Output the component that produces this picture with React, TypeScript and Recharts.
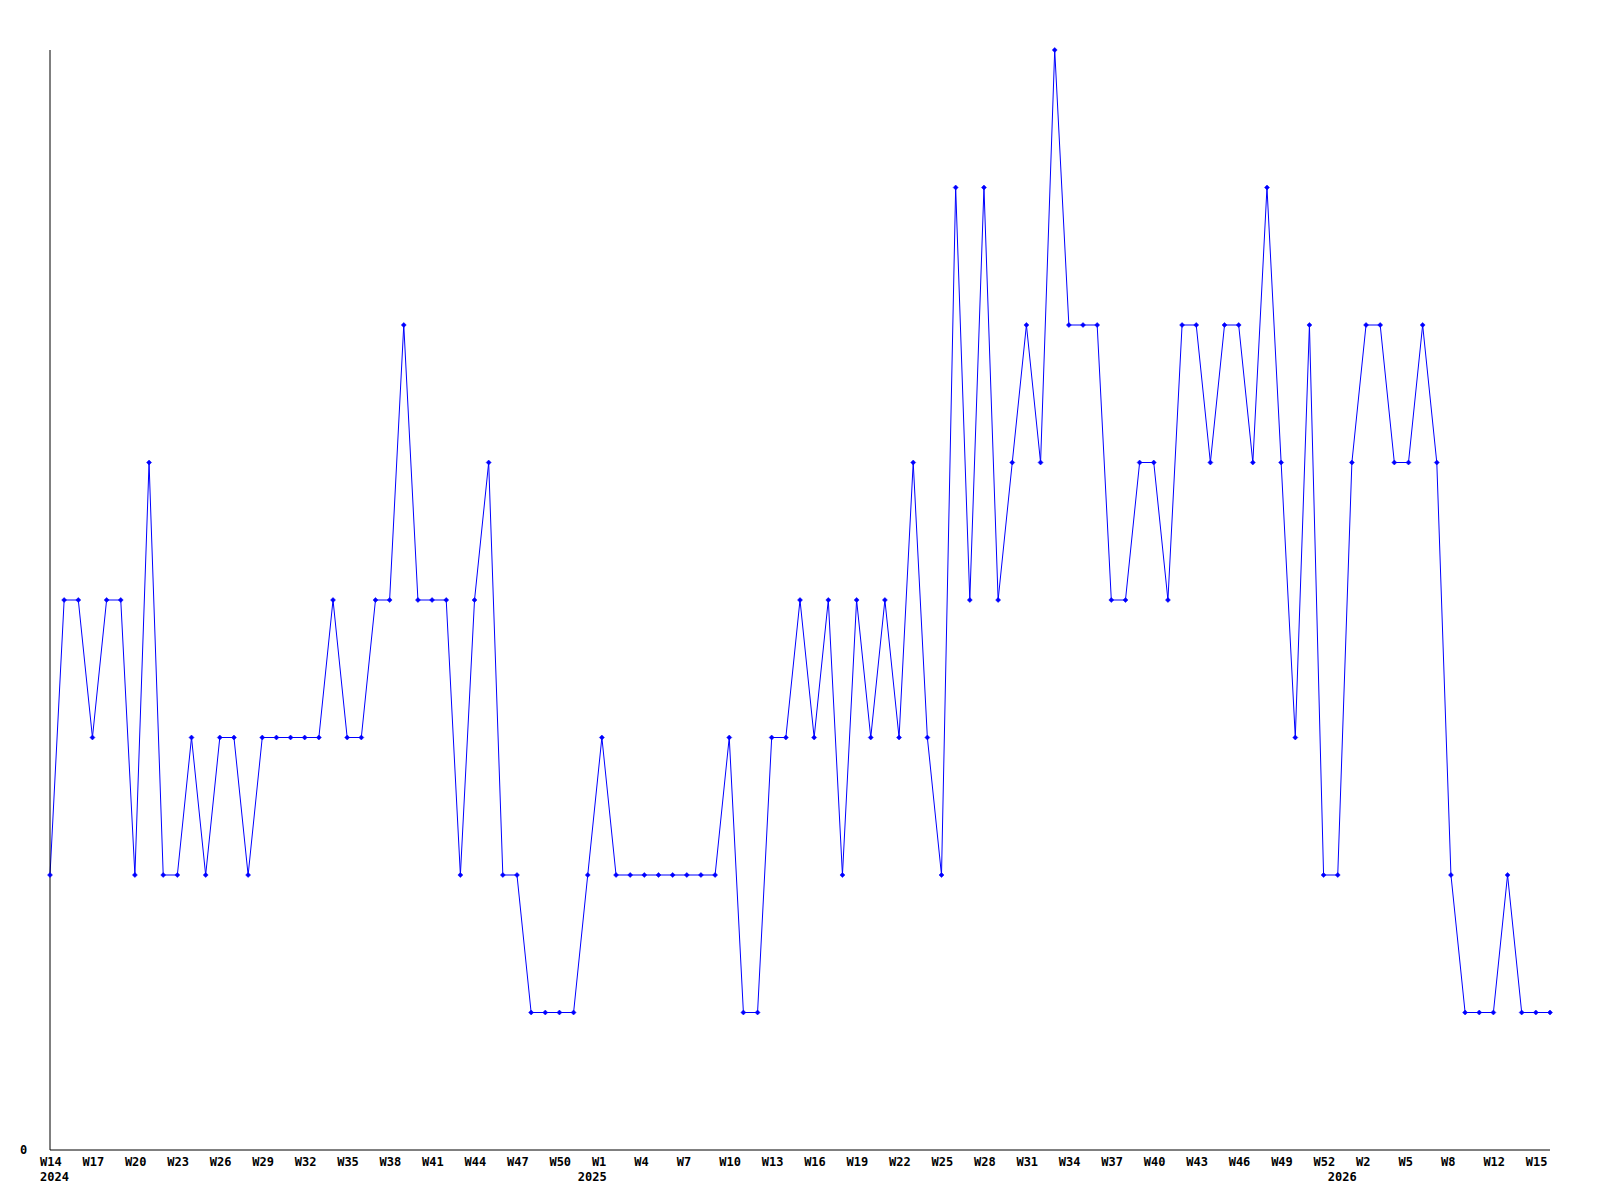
import React from "react";
import { LineChart, Line, XAxis, YAxis } from "recharts";

// Weekly values, W14 2024 .. W16 2026
const values: number[] = [
  2, 4, 4, 3, 4, 4, 2, 5, 2, 2, 3, 2, 3, 3, 2, 3, 3, 3, 3, 3,
  4, 3, 3, 4, 4, 6, 4, 4, 4, 2, 4, 5, 2, 2, 1, 1, 1, 1, 2, 3,
  2, 2, 2, 2, 2, 2, 2, 2, 3, 1, 1, 3, 3, 4, 3, 4, 2, 4, 3, 4,
  3, 5, 3, 2, 7, 4, 7, 4, 5, 6, 5, 8, 6, 6, 6, 4, 4, 5, 5, 4,
  6, 6, 5, 6, 6, 5, 7, 5, 3, 6, 2, 2, 5, 6, 6, 5, 5, 6, 5, 2,
  1, 1, 1, 2, 1, 1, 1,
];

// Tick labels shown every third point
const tickLabels: string[] = [
  "W14", "W17", "W20", "W23", "W26", "W29", "W32", "W35", "W38", "W41", "W44", "W47", "W50",
  "W1", "W4", "W7", "W10", "W13", "W16", "W19", "W22", "W25", "W28", "W31", "W34", "W37",
  "W40", "W43", "W46", "W49", "W52", "W2", "W5", "W8", "W12", "W15",
];
const tickIndices: number[] = tickLabels.map((_, k) => k * 3);

// Year labels and the point they sit under
const yearLabels: string[] = ["2024", "2025", "2026"];
const yearIndices: number[] = [0, 38, 91];

const allTicks: number[] = Array.from(new Set([...tickIndices, ...yearIndices])).sort((a, b) => a - b);

const data = values.map((v, i) => ({ i, v }));

const FONT = "'DejaVu Sans Mono', 'Liberation Mono', monospace";

const XTick = (props: any) => {
  const { x, y, payload } = props;
  const idx = payload.value as number;
  const k = tickIndices.indexOf(idx);
  const yk = yearIndices.indexOf(idx);
  return (
    <g>
      {k >= 0 && (
        <text x={x - 10} y={y + 8} textAnchor="start" fontFamily={FONT} fontWeight="bold" fontSize={12} fill="#000">
          {tickLabels[k]}
        </text>
      )}
      {yk >= 0 && (
        <text x={x - 10} y={y + 23} textAnchor="start" fontFamily={FONT} fontWeight="bold" fontSize={12} fill="#000">
          {yearLabels[yk]}
        </text>
      )}
    </g>
  );
};

const YTick = (props: any) => {
  const { y, payload } = props;
  return (
    <text x={20} y={y + 4} textAnchor="start" fontFamily={FONT} fontWeight="bold" fontSize={12} fill="#000">
      {payload.value}
    </text>
  );
};

const Dot = (props: any) => {
  const { cx, cy } = props;
  if (cx == null || cy == null) return null;
  return (
    <path
      d={`M${cx},${cy - 2.5} L${cx + 2.5},${cy} L${cx},${cy + 2.5} L${cx - 2.5},${cy} Z`}
      fill="#0000ff"
      stroke="#0000ff"
      strokeWidth={0.5}
    />
  );
};

export default function App() {
  return (
    <div style={{ position: "absolute", left: 0, top: 0, width: 1600, height: 1200, background: "#fff" }}>
      <LineChart width={1600} height={1200} data={data} margin={{ top: 50, right: 50, left: 0, bottom: 0 }}>
        <XAxis
          dataKey="i"
          type="number"
          domain={[0, 106]}
          ticks={allTicks}
          interval={0}
          tick={<XTick />}
          tickLine={false}
          axisLine={{ stroke: "#000", strokeWidth: 1 }}
          height={50}
        />
        <YAxis
          type="number"
          domain={[0, 8]}
          ticks={[0]}
          tick={<YTick />}
          tickLine={false}
          axisLine={{ stroke: "#000", strokeWidth: 1 }}
          width={50}
        />
        <Line
          type="linear"
          dataKey="v"
          stroke="#0000ff"
          strokeWidth={1}
          dot={<Dot />}
          activeDot={false}
          isAnimationActive={false}
        />
      </LineChart>
    </div>
  );
}
